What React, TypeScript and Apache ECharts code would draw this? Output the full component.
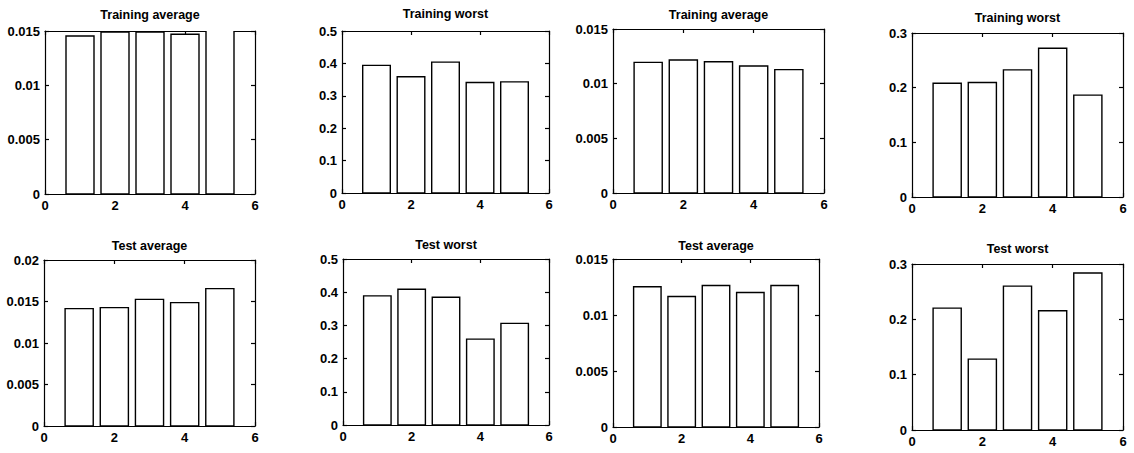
import { useEffect, useRef } from 'react';
import * as echarts from 'echarts';

// Bar positions on the x axis (x axis runs 0..6)
const barPositions = [1, 2, 3, 4, 5];
const xTickValues = [0, 2, 4, 6];

const titles = [
  'Training average', 'Training worst', 'Training average', 'Training worst',
  'Test average', 'Test worst', 'Test average', 'Test worst',
];

// Values
const trainAvgA = [0.01454, 0.0149, 0.0149, 0.0147, 0.0152];
const trainWorstA = [0.394, 0.359, 0.404, 0.341, 0.343];
const trainAvgB = [0.01195, 0.01216, 0.01201, 0.01162, 0.01128];
const trainWorstB = [0.208, 0.2095, 0.2326, 0.272, 0.1864];
const testAvgA = [0.01414, 0.01426, 0.01526, 0.01486, 0.01655];
const testWorstA = [0.389, 0.409, 0.385, 0.2586, 0.306];
const testAvgB = [0.01252, 0.01165, 0.01264, 0.01201, 0.01264];
const testWorstB = [0.2203, 0.128, 0.26, 0.2155, 0.2837];

const yMaxes = [0.015, 0.5, 0.015, 0.3, 0.02, 0.5, 0.015, 0.3];
const yIntervals = [0.005, 0.1, 0.005, 0.1, 0.005, 0.1, 0.005, 0.1];

const seriesValues = [trainAvgA, trainWorstA, trainAvgB, trainWorstB, testAvgA, testWorstA, testAvgB, testWorstB];

// Layout: [left, top, width, height, titleCenterY]
const boxes: number[][] = [
  [45, 31, 210, 163, 15],
  [342, 31, 207, 162, 14],
  [613, 29, 211, 164, 15],
  [912, 33, 211, 164, 18],
  [44, 260, 211, 166, 246],
  [343, 259, 206, 166, 245],
  [613, 259, 206, 168, 246],
  [912, 264, 211, 166, 249],
];

const FONT = 'Arial, "Liberation Sans", Helvetica, sans-serif';

export default function App() {
  const ref = useRef<HTMLDivElement>(null);
  useEffect(() => {
    const chart = echarts.init(ref.current!, null, { renderer: 'svg' });
    const grids: any[] = [];
    const xAxes: any[] = [];
    const yAxes: any[] = [];
    const series: any[] = [];
    const graphics: any[] = [];
    const lineStyle = { color: '#000', width: 1.2 };
    const labelStyle = { color: '#000', fontFamily: FONT, fontSize: 13, fontWeight: 'bold' as const };

    seriesValues.forEach((vals, i) => {
      const [l, t, w, h, ty] = boxes[i];
      grids.push({ left: l, top: t, width: w, height: h, show: false });
      const xBase = {
        type: 'value', gridIndex: i, min: 0, max: 6, interval: 2,
        splitLine: { show: false },
        axisLine: { show: true, onZero: false, lineStyle },
        axisTick: { show: true, inside: true, length: 4, lineStyle },
      };
      xAxes.push({
        ...xBase, position: 'bottom',
        axisLabel: {
          ...labelStyle, margin: 5,
          formatter: (v: number) => (xTickValues.includes(v) ? String(v) : ''),
        },
      });
      xAxes.push({ ...xBase, position: 'top', axisLabel: { show: false } });
      const yBase = {
        type: 'value', gridIndex: i, min: 0, max: yMaxes[i], interval: yIntervals[i],
        splitLine: { show: false },
        axisLine: { show: true, onZero: false, lineStyle },
        axisTick: { show: true, inside: true, length: 4, lineStyle },
      };
      yAxes.push({ ...yBase, position: 'left', axisLabel: { ...labelStyle, margin: 5 } });
      yAxes.push({ ...yBase, position: 'right', axisLabel: { show: false } });

      series.push({
        type: 'custom',
        xAxisIndex: 2 * i,
        yAxisIndex: 2 * i,
        clip: true,
        data: barPositions.map((x, j) => [x, vals[j]]),
        renderItem: (_params: any, api: any) => {
          const x = api.value(0);
          const v = api.value(1);
          const p0 = api.coord([x - 0.4, 0]);
          const p1 = api.coord([x + 0.4, v]);
          return {
            type: 'rect',
            shape: { x: p0[0], y: p1[1], width: p1[0] - p0[0], height: p0[1] - p1[1] },
            style: { fill: '#fff', stroke: '#000', lineWidth: 1.4 },
          };
        },
      });

      graphics.push({
        type: 'text',
        x: l + w / 2,
        y: ty,
        style: {
          text: titles[i],
          fill: '#000',
          font: `bold 12.5px ${FONT}`,
          align: 'center',
          verticalAlign: 'middle',
          textAlign: 'center',
          textVerticalAlign: 'middle',
        },
      });
    });

    chart.setOption({
      animation: false,
      backgroundColor: '#fff',
      grid: grids,
      xAxis: xAxes,
      yAxis: yAxes,
      series,
      graphic: graphics,
    });
    return () => chart.dispose();
  }, []);
  return (
    <div
      ref={ref}
      style={{ position: 'fixed', left: 0, top: 0, width: 1134, height: 453, background: '#fff' }}
    />
  );
}
